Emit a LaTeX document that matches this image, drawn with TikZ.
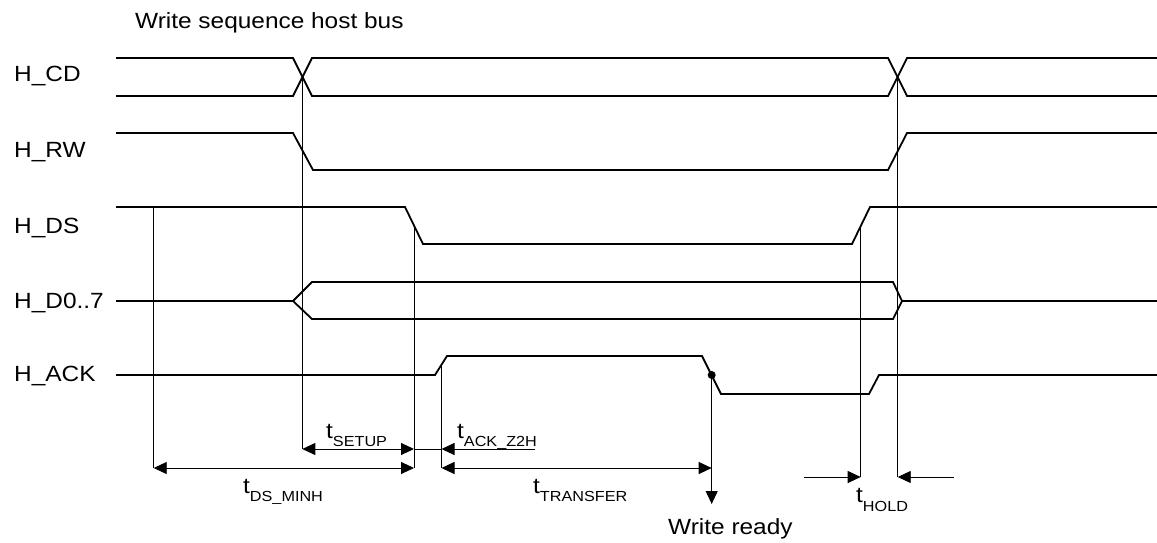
\documentclass[tikz,border=0pt]{standalone}
\usepackage{fontspec}
\setmainfont{Liberation Sans}[FakeStretch=1.11]
\usetikzlibrary{arrows.meta}
\newcommand{\mainsz}{\fontsize{22}{26}\selectfont}
\newcommand{\subsz}{\fontsize{14.6}{17}\selectfont}
\newcommand{\tsub}[1]{t\raisebox{-8.5pt}{\subsz #1}}
\begin{document}
\begin{tikzpicture}[x=1pt,y=-1pt,
  sig/.style={line width=1.8pt, line join=miter},
  guide/.style={line width=0.9pt},
  tipA/.tip={Triangle[length=13pt,width=12pt]},
  both/.style={guide, tipA-tipA},
  one/.style={guide, -tipA},
  lbl/.style={anchor=base west, inner sep=0pt, font=\mainsz},
]
\useasboundingbox (0,0) rectangle (1157,542);

% signal labels
\node[lbl] (title) at (135,28.3) {Write sequence host bus};
\node[lbl] (lcd)  at (14,81.7)  {H\_CD};
\node[lbl] (lrw)  at (14,157.3) {H\_RW};
\node[lbl] (lds)  at (14,233.3) {H\_DS};
\node[lbl] (ld)   at (14,308.3) {H\_D0..7};
\node[lbl] (lack) at (14,381.7) {H\_ACK};

% H_CD
\draw[sig] (116,58) -- (293,58) -- (312,96) -- (888,96) -- (907,58) -- (1157,58);
\draw[sig] (116,96) -- (293,96) -- (312,58) -- (888,58) -- (907,96) -- (1157,96);
% H_RW
\draw[sig] (116,133) -- (293,133) -- (313,170) -- (888,170) -- (907,133) -- (1157,133);
% H_DS
\draw[sig] (116,207) -- (405,207) -- (423,244) -- (852,244) -- (870,207) -- (1157,207);
% H_D0..7
\draw[sig] (116,301) -- (293,301) -- (312,282) -- (893,282) -- (902,301) -- (1157,301);
\draw[sig] (293,301) -- (312,319) -- (893,319) -- (902,301);
% H_ACK
\draw[sig] (116,375) -- (435,375) -- (447,356) -- (702,356) -- (721,394) -- (869,394) -- (879,375) -- (1157,375);

% reference points
\coordinate (dsh)  at (153.7,207);
\coordinate (cd1)  at (302.3,77);
\coordinate (dsf)  at (414,225.5);
\coordinate (ackr) at (441.5,365.5);
\coordinate (ackf) at (711.7,375);
\coordinate (dsr)  at (860.7,225.5);
\coordinate (cd2)  at (897.7,77);

\coordinate (dshB)  at (153.7,468);
\coordinate (cd1B)  at (302.3,449);
\coordinate (dsfS)  at (414,449);
\coordinate (dsfB)  at (414,468);
\coordinate (ackrS) at (441.5,449);
\coordinate (ackrB) at (441.5,468);
\coordinate (ackfB) at (711.7,468);
\coordinate (ready) at (711.7,504);
\coordinate (dsrB)  at (860.7,477);
\coordinate (cd2B)  at (897.7,477);
\coordinate (zend)  at (535,449);
\coordinate (hl)    at (804,477);
\coordinate (hr)    at (954,477);

% guide lines
\draw[guide] (dsh) -- (dshB);
\draw[guide] (cd1) -- (cd1B);
\draw[guide] (dsf) -- (dsfB);
\draw[guide] (ackr) -- (ackrB);
\draw[guide] (dsr) -- (dsrB);
\draw[guide] (cd2) -- (cd2B);
\draw[one] (ackf) -- (ready);
\fill (ackf) circle (4pt);

% dimension arrows
\draw[both] (cd1B) -- (dsfS);
\draw[guide] (dsfS) -- (ackrS);
\draw[one] (zend) -- (ackrS);
\draw[both] (dshB) -- (dsfB);
\draw[both] (ackrB) -- (ackfB);
\draw[one] (hl) -- (dsrB);
\draw[one] (hr) -- (cd2B);

% timing labels
\node[lbl] (tsetup) at (326,438.3) {\tsub{SETUP}};
\node[lbl] (tz2h)   at (457,438.3) {\tsub{ACK\_Z2H}};
\node[lbl] (tmin)   at (243,493.3) {\tsub{DS\_MINH}};
\node[lbl] (ttr)    at (533,493.3) {\tsub{TRANSFER}};
\node[lbl] (thold)  at (856,502.7) {\tsub{HOLD}};
\node[lbl] (wready) at (668,534.3) {Write ready};
\end{tikzpicture}
\end{document}
